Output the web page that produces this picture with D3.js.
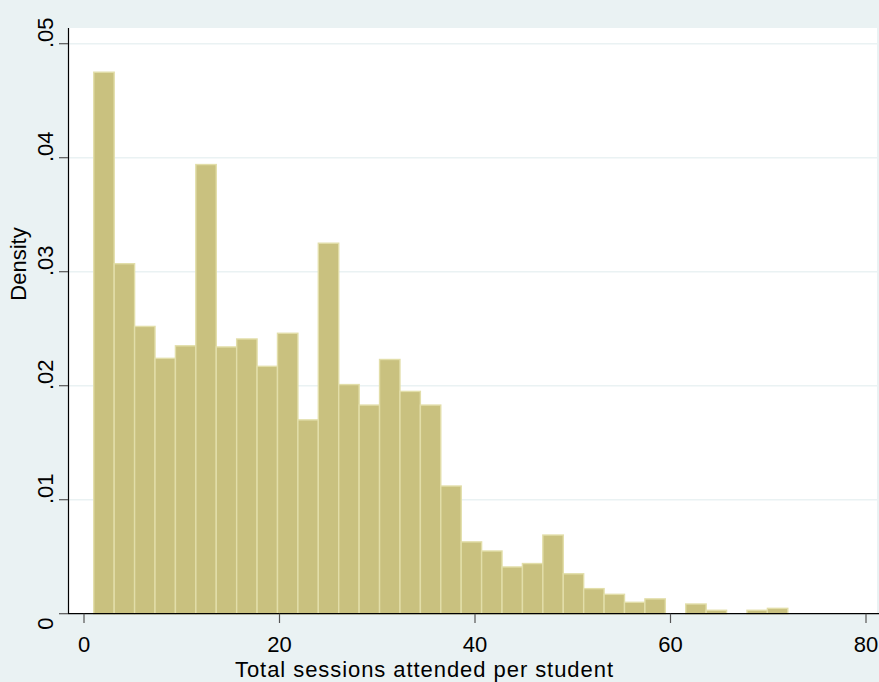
<!DOCTYPE html>
<html>
<head>
<meta charset="utf-8">
<script src="https://cdn.jsdelivr.net/npm/d3@7"></script>
<style>
  body { margin: 0; background: #eaf2f3; }
  svg { display: block; font-family: "Liberation Sans", Arial, sans-serif; }
</style>
</head>
<body>
<div class="chart"></div>
<script>
// histogram: 34 bins of equal width starting at 1
const binStart = 1;
const binWidth = 71 / 34;
const densities = [
	0.0475, 0.0307, 0.0252, 0.0224, 0.0235, 0.0394, 0.0234, 0.0241, 0.0217, 0.0246,
	0.0170, 0.0325, 0.0201, 0.0183, 0.0223, 0.0195, 0.0183, 0.0112, 0.0063, 0.0055,
	0.0041, 0.0044, 0.0069, 0.0035, 0.0022, 0.0017, 0.0010, 0.0013, 0, 0.00085,
	0.0003, 0, 0.0003, 0.00047
];
const xTicks = [0, 20, 40, 60, 80];
const yTicks = [0, 0.01, 0.02, 0.03, 0.04, 0.05];
const yTickLabels = ["0", ".01", ".02", ".03", ".04", ".05"];
const xTitle = "Total sessions attended per student";
const yTitle = "Density";

const width = 879;
const height = 682;
const plot = { left: 68, top: 28, right: 877, bottom: 614 };

const svg = d3.select(".chart")
	.append("svg")
	.attr("width", width)
	.attr("height", height);

svg.append("rect")
	.attr("width", width)
	.attr("height", height)
	.attr("fill", "#eaf2f3");

// plot region
svg.append("rect")
	.attr("x", plot.left)
	.attr("y", plot.top)
	.attr("width", plot.right - plot.left)
	.attr("height", plot.bottom - plot.top)
	.attr("fill", "#ffffff");

const x = d3.scaleLinear().domain([0, 80]).range([84, 866]);
const y = d3.scaleLinear().domain([0, 0.05]).range([613.7, 43.7]);

// gridlines
svg.append("g")
	.selectAll("line")
	.data(yTicks.filter((d) => d > 0))
	.enter()
	.append("line")
		.attr("x1", plot.left)
		.attr("x2", plot.right)
		.attr("y1", (d) => y(d))
		.attr("y2", (d) => y(d))
		.attr("stroke", "#eaf2f3")
		.attr("stroke-width", 1.5);

// bars
const bins = densities.map((d, i) => ({
	x0: binStart + i * binWidth,
	x1: binStart + (i + 1) * binWidth,
	value: d
})).filter((b) => b.value > 0);

svg.append("g")
	.selectAll("rect")
	.data(bins)
	.enter()
	.append("rect")
		.attr("x", (d) => x(d.x0))
		.attr("y", (d) => y(d.value))
		.attr("width", (d) => x(d.x1) - x(d.x0))
		.attr("height", (d) => y(0) - y(d.value))
		.attr("fill", "#c9c17f")
		.attr("stroke", "#e2dea9")
		.attr("stroke-width", 1.4);

// y axis
const yAxis = svg.append("g");
yAxis.append("line")
	.attr("x1", plot.left + 0.5).attr("x2", plot.left + 0.5)
	.attr("y1", plot.top).attr("y2", y(0))
	.attr("stroke", "#000").attr("stroke-width", 1.2);
yAxis.selectAll(".tick")
	.data(yTicks)
	.enter()
	.append("line")
		.attr("x1", 59).attr("x2", plot.left)
		.attr("y1", (d) => y(d)).attr("y2", (d) => y(d))
		.attr("stroke", "#555").attr("stroke-width", 1.2);
yAxis.selectAll("text")
	.data(yTicks)
	.enter()
	.append("text")
		.attr("transform", (d, i) => {
			const shift = yTickLabels[i] === "0" ? 10 : -11;
			return `translate(53,${y(d) + shift}) rotate(-90)`;
		})
		.attr("text-anchor", "middle")
		.attr("font-size", 22)
		.attr("fill", "#000")
		.text((d, i) => yTickLabels[i]);

// x axis
const xAxis = svg.append("g");
xAxis.append("line")
	.attr("x1", plot.left).attr("x2", width)
	.attr("y1", y(0)).attr("y2", y(0))
	.attr("stroke", "#000").attr("stroke-width", 1.2);
xAxis.selectAll(".tick")
	.data(xTicks)
	.enter()
	.append("line")
		.attr("x1", (d) => x(d)).attr("x2", (d) => x(d))
		.attr("y1", y(0)).attr("y2", 623)
		.attr("stroke", "#555").attr("stroke-width", 1.2);
xAxis.selectAll("text")
	.data(xTicks)
	.enter()
	.append("text")
		.attr("x", (d) => x(d))
		.attr("y", 652)
		.attr("text-anchor", "middle")
		.attr("font-size", 22)
		.attr("fill", "#000")
		.text((d) => d);

// titles
svg.append("text")
	.attr("x", 235)
	.attr("y", 677)
	.attr("font-size", 22)
	.attr("textLength", 378)
	.attr("lengthAdjust", "spacing")
	.attr("fill", "#000")
	.text(xTitle);

svg.append("text")
	.attr("transform", "translate(26,264) rotate(-90)")
	.attr("text-anchor", "middle")
	.attr("font-size", 22)
	.attr("fill", "#000")
	.text(yTitle);
</script>
</body>
</html>
